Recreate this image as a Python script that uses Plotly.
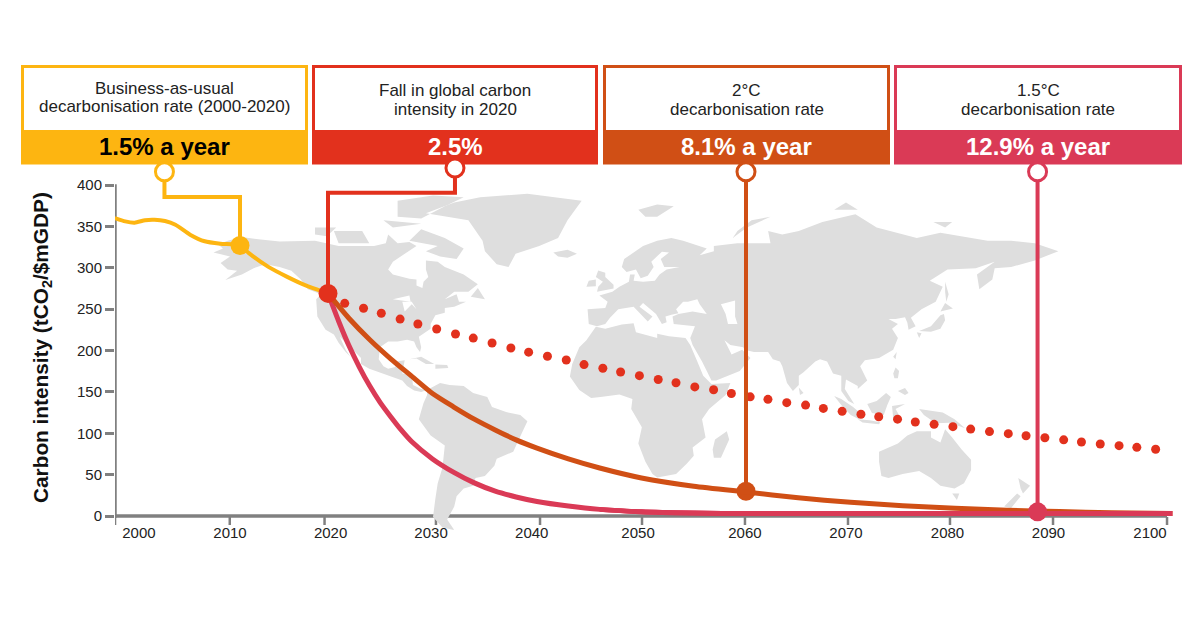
import plotly.graph_objects as go

# ---------- chart data ----------
bau_years = [1999.6, 2000.6, 2001.5, 2002.5, 2003.4, 2004.4, 2005.4, 2006.8, 2008.2, 2009.7, 2011.6, 2012.4, 2014.3, 2016.1, 2017.8, 2020.0]
bau_values = [360, 356, 354.5, 357.5, 358, 356.5, 352, 340, 332, 329, 327, 318, 301, 289, 279, 269]

trend_years = [2021.6, 2023.4, 2025.1, 2026.9, 2028.6, 2030.4, 2032.2, 2033.9, 2035.7, 2037.5, 2039.2, 2041.0, 2042.8, 2044.5, 2046.3,
               2048.0, 2049.8, 2051.6, 2053.3, 2055.1, 2056.9, 2058.6, 2060.4, 2062.1, 2063.9, 2065.7, 2067.4, 2069.2, 2071.0, 2072.7,
               2074.5, 2076.2, 2078.0, 2079.8, 2081.5, 2083.3, 2085.1, 2086.8, 2088.6, 2090.4, 2092.1, 2093.9, 2095.7, 2097.4, 2099.2]
trend_values = [257, 251, 245, 238, 232, 226, 220, 215, 209, 203, 198, 193, 188.5, 183, 178.5,
                174, 169.6, 165, 161, 156, 152.6, 148, 144, 141, 137, 134, 130, 126.5, 123, 120,
                117, 113.6, 110.8, 108, 105, 102, 99.5, 97, 94.6, 92, 89.4, 87, 85, 83, 80.6]

two_deg_years = [2020, 2022, 2024, 2026, 2028, 2030, 2032, 2034, 2036, 2038, 2040, 2043, 2046, 2050, 2055, 2060, 2065, 2070, 2075, 2080, 2085, 2090, 2095, 2100.8]
two_deg_values = [269, 239, 213, 190, 169, 148, 132, 117, 104, 92, 82, 69, 58, 46, 36, 29, 22, 16.5, 12.5, 9.5, 7, 5.3, 4, 3]

one5_deg_years = [2020, 2021, 2022, 2023, 2024, 2025, 2026, 2027, 2028, 2030, 2032, 2034, 2036, 2038, 2040, 2043, 2046, 2050, 2055, 2060, 2080, 2100.8]
one5_deg_values = [269, 236, 206, 180, 157, 137, 120, 104, 90, 69, 53, 40, 30, 23, 17.5, 12, 8, 5, 3.5, 3, 3, 3]

callout_years = {"bau": [2004.35, 2004.35, 2011.58, 2011.58], "fall": [2032.15, 2032.15, 2020.0, 2020.0],
                 "two": [2060.0, 2060.0], "one5": [2087.9, 2087.9]}
callout_values = {"bau": [416, 385.5, 385.5, 327], "fall": [420.5, 390.7, 390.7, 269],
                  "two": [416, 30], "one5": [416, 5]}

y_ticks = [0, 50, 100, 150, 200, 250, 300, 350, 400]
x_tick_marks = [1999.62, 2010.6, 2019.67, 2030.33, 2040.29, 2050.05, 2059.9, 2069.76, 2079.52, 2089.38, 2100.29]
x_label_pos = [2001.91, 2010.62, 2020.25, 2029.86, 2039.5, 2049.67, 2059.9, 2069.57, 2079.28, 2088.95, 2098.66]
x_labels = ["2000", "2010", "2020", "2030", "2040", "2050", "2060", "2070", "2080", "2090", "2100"]

panel_titles = [("Business-as-usual", "decarbonisation rate (2000-2020)"), ("Fall in global carbon", "intensity in 2020"),
                ("2°C", "decarbonisation rate"), ("1.5°C", "decarbonisation rate")]
panel_values = ["1.5% a year", "2.5%", "8.1% a year", "12.9% a year"]

YELLOW, RED, ORANGE, ROSE = "#FDB511", "#E2311D", "#D04F15", "#DA3A56"
panel_colors = [YELLOW, RED, ORANGE, ROSE]
panel_text = ["#000000", "#ffffff", "#ffffff", "#ffffff"]
panel_x = [(21, 308), (312, 598), (603, 890), (894, 1182)]
panel_line_y = [(88, 107), (90, 109), (90, 109), (90, 109)]

# ---------- basemap outlines (lon, lat) ----------
land = [
 [(-168,65.5),(-164,67),(-166,68.5),(-162,70),(-156,71.3),(-148,70.4),(-140,69.7),(-130,70),(-125,70),(-115,68),(-108,68),(-100,68),(-95,69),(-94,72),(-90,69),(-85,69.5),(-82,68),(-87,65),(-92,62),(-94,59),(-92,57),(-85,55.3),(-82,55),(-82,52.5),(-79.5,51.5),(-79,54),(-77,56),(-78,59),(-78,62.5),(-73,62),(-70,60),(-66,58.5),(-62,57),(-56,53),(-60,50),(-66,50),(-70,47),(-65,49),(-64,46),(-61,46),(-66,44),(-70,43.5),(-70,41.5),(-74,40.5),(-76,37),(-76,35),(-81,31.5),(-80,27),(-80.5,25),(-82,27),(-83,29.5),(-86,30.3),(-90,29.5),(-94,29.5),(-97.5,27),(-98,22),(-96,19),(-94,18),(-91,18.7),(-90.5,21),(-87,21.5),(-88,16),(-84,15.5),(-83.5,11),(-80,9),(-77.5,8.5),(-80,7.5),(-83,8.3),(-86,10.5),(-88,13),(-92,14.5),(-96,16),(-102,18),(-105.5,20),(-105.5,22.5),(-109,26),(-112,29),(-114.5,31.5),(-112,26),(-110,23),(-112,25),(-115,29),(-117,32.5),(-120.5,34.5),(-124,40),(-124.5,47),(-122.5,49),(-128,51),(-131,55),(-135,58.5),(-140,60),(-146,61),(-151,59.5),(-156,57),(-163,54.8),(-158,58.5),(-162,59),(-165,61.5),(-161,64)],
 [(-80,73.5),(-70,71),(-62,67),(-65,63),(-72,64),(-78,66),(-73,68),(-85,70)],
 [(-117,73),(-105,73),(-102,69),(-115,69)],
 [(-125,74),(-116,74),(-120,71.5),(-125,72)],
 [(-90,77),(-80,76.5),(-70,80),(-62,82.5),(-75,83),(-90,81.5)],
 [(-96,76),(-80,75),(-92,74)],
 [(-59,48),(-56,51.5),(-53,47)],
 [(-78,78),(-66,81),(-55,82.5),(-35,83.5),(-12,81.5),(-18,76),(-22,71),(-30,68),(-40,65),(-43,60),(-48,61),(-53,66),(-54,70),(-60,76)],
 [(-85,22),(-80,23),(-74.5,20),(-78,20),(-82,22.3)],
 [(-74,19.8),(-69,19.5),(-68.5,18.3),(-74,18)],
 [(-77.5,8.5),(-72,12),(-68,11),(-62,10.5),(-58,7),(-52,5),(-50,0),(-44,-2.5),(-38,-4),(-35,-7),(-37,-12),(-39,-17),(-41,-22),(-48,-25.5),(-49,-29),(-53,-34),(-57,-35),(-58,-38),(-62,-39),(-65,-42),(-66,-46),(-69,-51),(-66,-55),(-71,-54),(-75,-50),(-74,-43),(-73,-37),(-71,-30),(-70,-19),(-76,-14),(-81,-6),(-80,-2),(-79,2),(-77.5,6)],
 [(-6,35.8),(-2,35),(5,36.8),(10,37.3),(11,33.5),(15,32.3),(20,31),(20,32.8),(25,31.7),(32,31),(34,28),(37,21),(39.5,15),(43,11.5),(51,12),(49,6),(42,-1),(39,-6),(40.5,-15),(35,-20),(35.5,-24),(32.5,-28),(28,-33),(20,-34.8),(18,-33),(15,-27),(12,-18),(13.5,-10),(9,-1),(9.5,4),(4,6.2),(-4,5),(-8,4.5),(-13,8.5),(-17,14.7),(-16,20),(-13,27),(-10,30)],
 [(49.5,-12),(50.5,-16),(47,-25),(44,-25),(43.5,-21),(44.5,-16)],
 [(-9,37),(-9.5,43),(-2,43.5),(-1,46),(-4.5,48.5),(1,50),(4,52),(8,54),(8.5,57),(10.5,57),(10,54.5),(14,54),(19,54.5),(21,57),(24,59),(29.5,60),(23,60),(21.5,63),(25,65.5),(22,65.8),(17.5,62),(18.5,60),(16,56.5),(13,55.5),(11,59),(7,58),(5,60),(6,63),(14,68),(20,70),(26,71),(31,70),(41,67),(38,64.5),(44,66),(44,68),(54,69),(60,69),(68,69),(67,73),(73,72),(80,73),(90,75.5),(104,77.7),(113,74),(130,71),(140,72.5),(160,70),(170,70),(180,69),(190,66),(180,62.5),(170,60),(163,59.5),(162,55),(156.5,51),(155.5,57),(163,62),(155,59.5),(143,59),(135.5,54.5),(141,52),(138,46),(132,43),(127.5,39.5),(129.5,36),(126.5,34.5),(126,37.5),(125,39.7),(121,39),(118,39),(122,37),(119.5,35),(122,31),(120,26),(114,22.5),(108,21.5),(106,19),(109,13),(105,9),(105,10.5),(100,13.5),(99.5,9),(103.5,1.5),(101,3),(98,8),(98,15),(94.5,16),(92,21),(89,22),(87,21),(82,16.5),(80,15),(80,11),(77.5,8),(75,12),(73,19),(72,21),(69,22),(67,25),(61,25),(57,26),(56.5,27),(51,28),(48.5,30),(51,25),(51.5,24),(56,26),(59.5,22.5),(55,17),(45,13),(43,13),(39,21),(35,28),(34,31),(36,36),(30,36.5),(27,37),(26.5,40),(29,41),(35,42),(41,41),(38,45),(37,47),(33,46),(31,46),(28,43),(29,41.3),(26,40.7),(23.5,40),(24,37.7),(22,37),(19.5,41),(14,45.5),(12.5,44),(18,40),(16,38),(10,44),(3.5,43),(0,39.5),(-2,37),(-5.5,36)],
 [(-5.5,50),(1.5,51.3),(1.5,52.8),(-2,56),(-2,57.7),(-5,58.6),(-6,56),(-3,54),(-5,52)],
 [(-10,52),(-6,52.2),(-6,55),(-9,54.5)],
 [(-24,65.5),(-18,66.5),(-14,65),(-18,63.5),(-22,64)],
 [(12,79),(20,80.5),(27,80),(20,77),(15,77)],
 [(52,71),(58,74),(68,77),(60,76),(54,73)],
 [(95,79),(105,79),(100,81)],
 [(137,75.5),(145,75.5),(142,74)],
 [(131,34),(136,36),(140,40.5),(141.5,41),(142,38.5),(140,35),(136,33.7)],
 [(140,42),(142,45.5),(145.3,43.3),(141,42)],
 [(130,33.5),(132,33),(131,31)],
 [(142,54),(143.5,49),(142.5,46),(142,50)],
 [(120,23),(121.5,25),(121,22)],
 [(120,16),(121,18.5),(122.5,17),(122,14),(120.5,14)],
 [(122,8),(125,9.5),(126.5,7),(125,6)],
 [(109,1.5),(113,3),(117,7),(119,5),(117.5,1),(116,-4),(111,-3)],
 [(95,5.5),(98,4),(103,0),(106,-3),(105.5,-6),(102,-4),(98,1)],
 [(105,-6),(110,-6.5),(114.5,-7.5),(114,-8.5),(107,-7.7)],
 [(119.5,0.5),(125,1.5),(121,-1),(123,-5),(120,-5.5)],
 [(131,-1),(137,-2),(141,-2.7),(146,-6),(150.5,-10.5),(144,-7.8),(138,-8),(133,-4)],
 [(80,9.7),(82,7),(80.5,6)],
 [(114,-22),(122,-18),(126,-14),(130,-12),(136,-12),(136,-15),(140,-17.5),(142,-11),(145,-15),(149,-21),(153,-26),(153,-31),(150,-37),(146,-39),(140,-38),(136,-35),(131,-31.5),(124,-33),(118,-35),(115,-34),(114,-27)],
 [(145,-41),(148,-41),(147,-43.5)],
 [(173,-35),(178,-38),(175,-41),(174,-39)],
 [(172.5,-41),(174,-42),(170,-46.5),(167,-46)],
]
lakes = [
 [(47,45),(53,46.5),(53,40),(54,37),(50,37),(49,41)],
 [(-92,47),(-85,48.5),(-84.5,46),(-88,46.5)],
 [(-88,46),(-84,46),(-82,43),(-84,45),(-87,42)],
 [(-83,42),(-76,44),(-79,43)],
]
# latitude scale of the background map: (latitude, pixel row)
map_lat_scale = [(-60, 543), (-55, 530), (-35, 478), (0, 407), (12, 383), (25, 352), (37, 324), (60, 267), (71, 238), (84, 192)]

# ---------- geometry ----------
W, H = 1200, 628
FL, FR, FT, FB = 115, 1190, 150, 544      # plot frame (wider than the drawn axes)
T, B = 185, 516                           # pixel rows of 400 and 0
PX_PER_YEAR = 10.45
PX_PER_UNIT = (B - T) / 400
x_range = [2020 + (FL - 328) / PX_PER_YEAR, 2020 + (FR - 328) / PX_PER_YEAR]
y_range = [(B - FB) / PX_PER_UNIT, (B - FT) / PX_PER_UNIT]


def lat_row(lat):
    for (a, ra), (b, rb) in zip(map_lat_scale, map_lat_scale[1:]):
        if a <= lat <= b:
            return ra + (rb - ra) * (lat - a) / (b - a)
    return map_lat_scale[-1][1]


def project(lon, lat):
    px_ = 610 + 2.36 * lon
    return 2020 + (px_ - 328) / PX_PER_YEAR, (B - lat_row(lat)) / PX_PER_UNIT


def outlines(polys):
    xs, ys = [], []
    for poly in polys:
        pts = [project(*p) for p in poly]
        pts.append(pts[0])
        xs += [p[0] for p in pts] + [None]
        ys += [p[1] for p in pts] + [None]
    return xs, ys


def px(x):
    return (x - FL) / (FR - FL)


def py(y):
    return (FB - y) / (FB - FT)


fig = go.Figure()
lx, ly = outlines(land)
fig.add_trace(go.Scatter(x=lx, y=ly, mode="lines", fill="toself", fillcolor="#DEDEDE", line=dict(width=0),
                         hoverinfo="skip", showlegend=False))
wx, wy = outlines(lakes)
fig.add_trace(go.Scatter(x=wx, y=wy, mode="lines", fill="toself", fillcolor="#FFFFFF", line=dict(width=0),
                         hoverinfo="skip", showlegend=False))


def curve(x, y, color, width, smooth=True):
    fig.add_trace(go.Scatter(x=x, y=y, mode="lines", cliponaxis=False, showlegend=False, hoverinfo="skip",
                             line=dict(color=color, width=width, shape="spline" if smooth else "linear", smoothing=0.6)))


def callout(key, color):
    xs, ys = callout_years[key], callout_values[key]
    curve(xs, ys, color, 4, smooth=False)
    fig.add_trace(go.Scatter(x=[xs[-1]], y=[ys[-1]], mode="markers", cliponaxis=False, showlegend=False, hoverinfo="skip",
                             marker=dict(color=color, size=19)))
    fig.add_trace(go.Scatter(x=[xs[0]], y=[ys[0]], mode="markers", cliponaxis=False, showlegend=False, hoverinfo="skip",
                             marker=dict(color="#ffffff", size=18, line=dict(color=color, width=3))))


curve(bau_years, bau_values, YELLOW, 4)
fig.add_trace(go.Scatter(x=trend_years, y=trend_values, mode="markers", cliponaxis=False, showlegend=False, hoverinfo="skip",
                         marker=dict(color=RED, size=9)))
curve(one5_deg_years, one5_deg_values, ROSE, 5)
callout("two", ORANGE)
curve(two_deg_years, two_deg_values, ORANGE, 5)
curve(one5_deg_years[16:], one5_deg_values[16:], ROSE, 5)
callout("bau", YELLOW)
callout("fall", RED)
callout("one5", ROSE)

shapes, annots = [], []
for (x0, x1), col, tcol, title, val, ly_ in zip(panel_x, panel_colors, panel_text, panel_titles, panel_values, panel_line_y):
    shapes.append(dict(type="rect", xref="paper", yref="paper", x0=px(x0 + 1.5), x1=px(x1 - 1.5), y0=py(163), y1=py(66.5),
                       line=dict(color=col, width=3), fillcolor="#ffffff", layer="below"))
    shapes.append(dict(type="rect", xref="paper", yref="paper", x0=px(x0), x1=px(x1), y0=py(164), y1=py(130),
                       line=dict(width=0), fillcolor=col, layer="below"))
    xc = (x0 + x1) / 2
    for line_text, y_line in zip(title, ly_):
        annots.append(dict(xref="paper", yref="paper", x=px(xc), y=py(y_line), text=line_text, showarrow=False,
                           font=dict(family="Liberation Sans", size=17, color="#222222"), xanchor="center", yanchor="middle"))
    annots.append(dict(xref="paper", yref="paper", x=px(xc), y=py(146.5), text="<b>%s</b>" % val, showarrow=False,
                       font=dict(family="Liberation Sans", size=24, color=tcol), xanchor="center", yanchor="middle"))
annots.append(dict(xref="paper", yref="paper", x=px(42), y=py(348), text="<b>Carbon intensity (tCO<sub>2</sub>/$mGDP)</b>",
                   textangle=-90, showarrow=False, font=dict(family="Liberation Sans", size=20.8, color="#111111"),
                   xanchor="center", yanchor="middle"))
# axis lines stop at 0 and 400 and at the last tick, inside the wider frame
axis_right_year = x_tick_marks[-1]
shapes.append(dict(type="line", xref="x", yref="y", x0=x_range[0], x1=x_range[0], y0=-2, y1=401, line=dict(color="#808080", width=3.5), layer="below"))
shapes.append(dict(type="line", xref="x", yref="y", x0=x_range[0], x1=axis_right_year, y0=0, y1=0, line=dict(color="#808080", width=3.5), layer="below"))
for t in x_tick_marks:
    shapes.append(dict(type="line", xref="x", yref="paper", x0=t, x1=t, y0=py(517), y1=py(525),
                       line=dict(color="#808080", width=2.5), layer="below"))

fig.update_layout(
    width=W, height=H, margin=dict(l=FL, r=W - FR, t=FT, b=H - FB), plot_bgcolor="rgba(0,0,0,0)", paper_bgcolor="#ffffff",
    showlegend=False, shapes=shapes, annotations=annots, font=dict(family="Liberation Sans"),
    xaxis=dict(range=x_range, tickmode="array", tickvals=x_label_pos, ticktext=x_labels, ticks="", ticklabelposition="inside",
               tickfont=dict(family="Liberation Sans", size=15, color="#222222"),
               showline=False, showgrid=False, zeroline=False, fixedrange=True),
    yaxis=dict(range=y_range, tickmode="array", tickvals=y_ticks, ticks="outside", ticklen=9, tickwidth=2.5, tickcolor="#808080",
               tickfont=dict(family="Liberation Sans", size=15, color="#222222"), showline=False,
               showgrid=False, zeroline=False, fixedrange=True),
)
fig.write_html("out.html", config=dict(displayModeBar=False), post_script="document.body.style.margin='0';")
